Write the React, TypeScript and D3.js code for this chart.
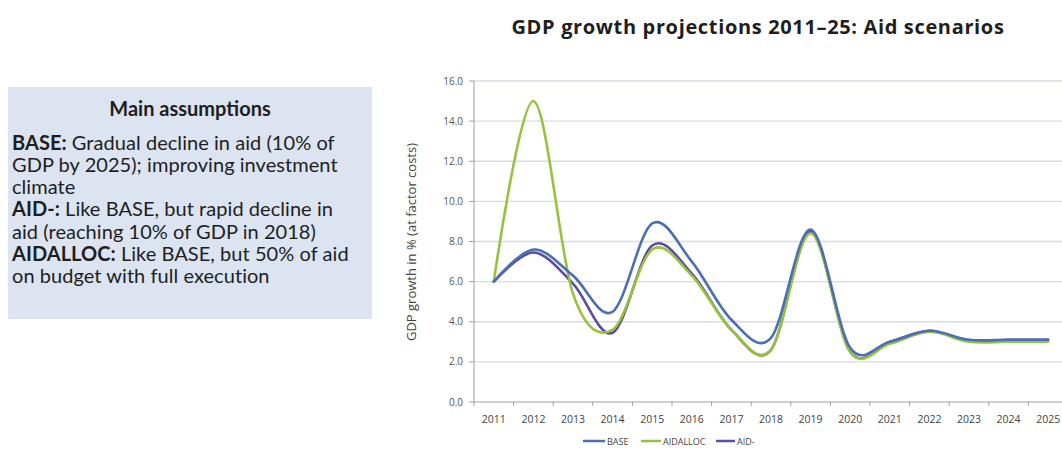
import React from "react";
import * as d3 from "d3";

const years = ["2011","2012","2013","2014","2015","2016","2017","2018","2019","2020","2021","2022","2023","2024","2025"];
const base = [6.0, 7.6, 6.3, 4.5, 8.9, 7.0, 4.1, 3.2, 8.6, 2.7, 3.0, 3.55, 3.1, 3.1, 3.1];
const aidalloc = [6.0, 15.0, 5.4, 3.6, 7.6, 6.3, 3.6, 2.6, 8.4, 2.5, 2.9, 3.5, 3.0, 3.0, 3.0];
const aidMinus = [6.0, 7.45, 5.9, 3.45, 7.8, 6.4, 3.6, 2.6, 8.5, 2.5, 3.0, 3.55, 3.05, 3.1, 3.1];
const yTicks = [0, 2, 4, 6, 8, 10, 12, 14, 16];

const series = [
  { name: "BASE", values: base, color: "#4a6fb5" },
  { name: "AIDALLOC", values: aidalloc, color: "#97c23c" },
  { name: "AID-", values: aidMinus, color: "#5e4a9e" },
];

const boxTitle = "Main assumptions";
const boxLines: { bold: string; rest: string }[] = [
  { bold: "BASE:", rest: " Gradual decline in aid (10% of" },
  { bold: "", rest: "GDP by 2025); improving investment" },
  { bold: "", rest: "climate" },
  { bold: "AID-:", rest: " Like BASE, but rapid decline in" },
  { bold: "", rest: "aid (reaching 10% of GDP in 2018)" },
  { bold: "AIDALLOC:", rest: "  Like BASE, but 50% of aid" },
  { bold: "", rest: "on budget with full execution" },
];

export default function App() {
  const W = 1062, H = 451;
  const left = 474, step = 39.6;
  const x = d3.scaleBand<string>().domain(years).range([left, left + step * years.length]).padding(0);
  const cx = (yr: string) => (x(yr) as number) + x.bandwidth() / 2;
  const y = d3.scaleLinear().domain([0, 16]).range([402, 81]);
  const line = d3.line<number>()
    .x((_, i) => cx(years[i]))
    .y((d) => y(d))
    .curve(d3.curveCatmullRom.alpha(0));
  const font = "'Open Sans', Lato, sans-serif";
  const legendItems = [
    { x: 583, w: 22 },
    { x: 641, w: 20 },
    { x: 716, w: 19 },
  ];
  return (
    <svg width={W} height={H} style={{ position: "absolute", left: 0, top: 0, background: "#fff" }}>
      <rect x={0} y={0} width={W} height={H} fill="#fff" />
      <text x={758} y={34} textAnchor="middle" fontFamily={font} fontWeight="bold" fontSize={20} letterSpacing={0.65} fill="#1e1e1e">
        GDP growth projections 2011–25: Aid scenarios
      </text>
      {/* assumptions box */}
      <rect x={8} y={87} width={364} height={232} fill="#dbe4f0" />
      <text x={190} y={116} textAnchor="middle" fontFamily="Lato, sans-serif" fontWeight="bold" fontSize={20} fill="#1e1e1e">
        {boxTitle}
      </text>
      {boxLines.map((l, i) => (
        <text key={i} x={12} y={149.5 + i * 22.3} fontFamily="Lato, sans-serif" fontSize={20} letterSpacing={0.05} fill="#1e1e1e">
          {l.bold && <tspan fontWeight="bold">{l.bold}</tspan>}
          <tspan>{l.rest}</tspan>
        </text>
      ))}
      {/* grid */}
      {yTicks.map((t) => (
        <g key={t}>
          {t > 0 && <line x1={left} x2={W} y1={y(t)} y2={y(t)} stroke="#d6dce6" strokeWidth={1.3} />}
          <line x1={left - 5} x2={left} y1={y(t)} y2={y(t)} stroke="#a0a0a0" />
          <text x={463} y={y(t) + 3.5} textAnchor="end" fontFamily={font} fontSize={10} fill="#555">
            {t.toFixed(1)}
          </text>
        </g>
      ))}
      <line x1={left} x2={left} y1={y(16)} y2={y(0)} stroke="#a0a0a0" strokeWidth={1} />
      <line x1={left} x2={W} y1={y(0)} y2={y(0)} stroke="#a0a0a0" strokeWidth={1} />
      {years.map((yr) => (
        <g key={yr}>
          <line x1={x(yr) as number} x2={x(yr) as number} y1={y(0)} y2={y(0) + 4} stroke="#a0a0a0" />
          <text x={cx(yr)} y={423} textAnchor="middle" fontFamily={font} fontSize={10.5} fill="#444">
            {yr}
          </text>
        </g>
      ))}
      <text transform={`translate(416,242) rotate(-90)`} textAnchor="middle" fontFamily={font} fontSize={13} fill="#444">
        GDP growth in % (at factor costs)
      </text>
      {/* lines */}
      {[...series].reverse().map((s) => (
        <path key={s.name} d={line(s.values) || ""} fill="none" stroke={s.color} strokeWidth={2.6} strokeLinecap="round" />
      ))}
      {/* legend */}
      {series.map((s, i) => (
        <g key={s.name}>
          <line x1={legendItems[i].x} x2={legendItems[i].x + legendItems[i].w} y1={441} y2={441} stroke={s.color} strokeWidth={2.5} />
          <text x={legendItems[i].x + legendItems[i].w + 2} y={444.5} fontFamily={font} fontSize={9} fill="#444">
            {s.name}
          </text>
        </g>
      ))}
    </svg>
  );
}
